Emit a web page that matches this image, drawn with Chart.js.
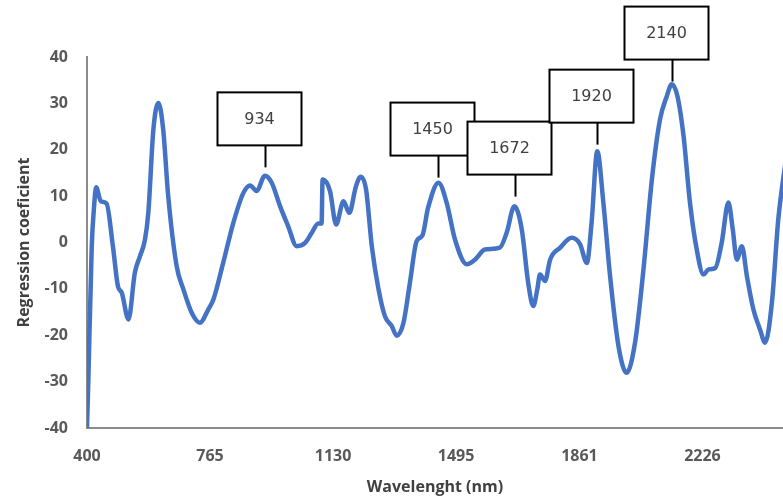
<!DOCTYPE html>
<html>
<head>
<meta charset="utf-8">
<script src="https://cdn.jsdelivr.net/npm/chart.js@4.4.1/dist/chart.umd.min.js"></script>
<style>
  body { margin: 0; background: #fff; }
  #wrap { width: 783px; height: 503px; position: relative; }
</style>
</head>
<body>
<div id="wrap"><canvas id="chart"></canvas></div>
<script>
// wavelength (nm) and regression coefficient
const wavelengths = [400, 404, 414, 421, 427, 441, 458, 477, 492, 503, 523, 542, 557, 572, 582, 597, 612, 626, 641, 666,
  686, 711, 735, 760, 775, 804, 834, 864, 884, 903, 928, 948, 973, 997, 1022, 1047, 1067, 1086, 1096, 1099,
  1121, 1139, 1161, 1178, 1198, 1212, 1228, 1245, 1265, 1284, 1304, 1319, 1339, 1358, 1378, 1395, 1412, 1443, 1467, 1492,
  1527, 1551, 1581, 1625, 1645, 1668, 1690, 1709, 1724, 1736, 1744, 1759, 1774, 1804, 1838, 1863, 1883, 1897, 1914, 1932,
  1952, 1977, 2001, 2026, 2051, 2076, 2100, 2120, 2135, 2152, 2170, 2189, 2209, 2229, 2244, 2264, 2283, 2303, 2316, 2328,
  2343, 2358, 2377, 2397, 2412, 2432, 2451, 2464, 2472];
const coefficients = [-40, -29.5, -1, 7.8, 11.9, 8.9, 8.4, -0.9, -9.5, -10.8, -16.6, -6.5, -3, 0.6, 6.5, 24.4, 30.1, 24.4, 10, -5.1,
  -10.1, -15.2, -17.3, -14.4, -12.3, -4.4, 4.2, 10.7, 12.3, 11.1, 14.4, 12.9, 7.8, 3.5, -0.8, -0.1, 2.1, 4.1, 4.1, 13.6,
  11.1, 3.9, 8.9, 6.4, 12.1, 14.2, 11.4, -0.8, -10.1, -15.9, -18.0, -20.1, -17.3, -8.7, 0.3, 1.5, 7.5, 12.9, 8.6, 0.6,
  -4.7, -3.7, -1.5, -1.1, 2.1, 7.8, 2.8, -8.7, -13.7, -10.1, -6.9, -8.3, -3.7, -1.1, 1.0, -0.4, -4.4, 4.2, 19.7, 8.6,
  -7.3, -22.4, -28.1, -21.6, -5.8, 13.6, 26.5, 31.5, 34.1, 31.5, 22.9, 8.6, -1.5, -6.9, -5.8, -5.5, -0.1, 8.6, 2.8, -3.7,
  -0.8, -7.3, -14.4, -18.8, -21.6, -13.0, 5.0, 12.9, 17];

const xTicks = [400, 765, 1130, 1495, 1861, 2226];

// peak labels: text, where the leader sits, and the value at the leader's foot
const peakLabels = ['934', '1450', '1672', '1920', '2140'];
const peakAt = [928, 1441, 1669, 1913, 2136];
const peakTop = [16.2, 14.0, 9.9, 21.1, 34.7];

const points = wavelengths.map((w, i) => ({ x: w, y: coefficients[i] }));

const peakBoxes = {
  id: 'peakBoxes',
  afterDraw(chart) {
    const ctx = chart.ctx;
    const xs = chart.scales.x, ys = chart.scales.y;
    ctx.save();
    peakLabels.forEach((txt, i) => {
      const px = Math.round(xs.getPixelForValue(peakAt[i])) + 0.5;
      const py = ys.getPixelForValue(peakTop[i]);
      const boxBottom = py - 22;
      const left = px - 48, w = 84, h = 53;
      ctx.strokeStyle = '#000';
      ctx.lineWidth = 2;
      ctx.beginPath();
      ctx.moveTo(px, py);
      ctx.lineTo(px, boxBottom);
      ctx.stroke();
      ctx.fillStyle = '#fff';
      ctx.fillRect(left, boxBottom - h, w, h);
      ctx.strokeRect(left, boxBottom - h, w, h);
      ctx.fillStyle = '#404040';
      ctx.font = '16px "DejaVu Sans"';
      ctx.textAlign = 'center';
      ctx.textBaseline = 'middle';
      ctx.fillText(txt, left + w / 2, boxBottom - h / 2 + 1);
    });
    ctx.restore();
  }
};

const tickFont = { family: 'Open Sans', size: 16, weight: 'bold' };

new Chart(document.getElementById('chart'), {
  type: 'line',
  data: {
    datasets: [{
      data: points,
      borderColor: '#4472C4',
      borderWidth: 4.5,
      pointRadius: 0,
      fill: false,
      cubicInterpolationMode: 'monotone'
    }]
  },
  options: {
    responsive: true,
    maintainAspectRatio: false,
    animation: false,
    layout: { padding: { top: 57, right: 0, left: 0, bottom: 0 } },
    plugins: {
      legend: { display: false },
      tooltip: { enabled: false }
    },
    scales: {
      x: {
        type: 'linear',
        min: 400,
        max: 2465,
        afterBuildTicks: s => { s.ticks = xTicks.map(v => ({ value: v })); },
        afterFit: s => { s.height = 75; },
        grid: { drawOnChartArea: false, drawTicks: false },
        border: { color: '#8c8c8c', width: 2 },
        ticks: {
          color: '#595959',
          font: tickFont,
          padding: 19,
          maxRotation: 0,
          autoSkip: false,
          callback: v => String(v)
        },
        title: {
          display: true,
          text: 'Wavelenght (nm)',
          color: '#404040',
          font: { family: 'Open Sans', size: 16, weight: 'bold' },
          padding: { top: 4, bottom: 6 }
        }
      },
      y: {
        min: -40,
        max: 40,
        afterFit: s => { s.width = 87; },
        grid: { drawOnChartArea: false, drawTicks: false },
        border: { color: '#8c8c8c', width: 2 },
        ticks: {
          stepSize: 10,
          color: '#595959',
          font: tickFont,
          padding: 19
        },
        title: {
          display: true,
          text: 'Regression coeficient',
          color: '#404040',
          font: { family: 'Open Sans', size: 16, weight: 'bold' },
          padding: { top: 15, bottom: 4 }
        }
      }
    }
  },
  plugins: [peakBoxes]
});
</script>
</body>
</html>
